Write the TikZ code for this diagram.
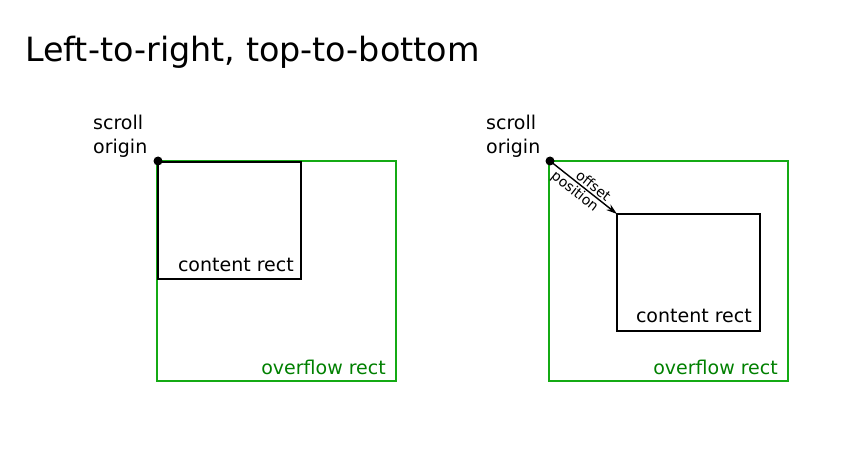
\documentclass[tikz,border=0pt]{standalone}
\usepackage{fontspec}
\setmainfont{DejaVu Sans}
\usetikzlibrary{arrows.meta}
\definecolor{ovline}{RGB}{20,170,20}
\definecolor{ovtext}{RGB}{0,128,0}
\begin{document}
\begin{tikzpicture}[x=1pt,y=-1pt,
  lbl/.style={inner sep=0pt,font=\fontsize{19}{24}\selectfont},
  small/.style={inner sep=1.5pt,font=\fontsize{14}{15}\selectfont},
  ovbox/.style={draw=ovline,line width=1.5pt},
  ctbox/.style={draw=black,line width=1.4pt},
  dotpt/.style={circle,fill=black,inner sep=0pt,minimum size=9pt}]
\useasboundingbox (0,0) rectangle (859,457);
\node[inner sep=0pt,anchor=base west,font=\fontsize{33.4}{40}\selectfont] (title) at (25,62) {Left-to-right, top-to-bottom};
% left
\draw[ovbox] (157,161) rectangle (396,381);
\draw[ctbox] (158,162) rectangle (301,279);
\node[dotpt] (o1) at (158,161) {};
\node[lbl,anchor=base west,align=left] (s1) at (93,154) {scroll\\origin};
\node[lbl,anchor=base east] (c1) at (294,271) {content rect};
\node[lbl,anchor=base east,text=ovtext] (f1) at (386,374) {overflow rect};
% right
\draw[ovbox] (549,161) rectangle (788,381);
\draw[ctbox] (617,214) rectangle (760,331);
\coordinate (ct2) at (617,214);
\node[dotpt] (o2) at (550,161) {};
\node[lbl,anchor=base west,align=left] (s2) at (486,154) {scroll\\origin};
\node[lbl,anchor=base east] (c2) at (752,322) {content rect};
\node[lbl,anchor=base east,text=ovtext] (f2) at (778,374) {overflow rect};
\draw[line width=1.4pt,-{Stealth[length=11pt,width=7pt]}] (o2.center) -- (ct2)
  node[pos=0.58,sloped,above,small] (off) {offset}
  node[pos=0.45,sloped,below,small] (posn) {position};
\end{tikzpicture}
\end{document}
